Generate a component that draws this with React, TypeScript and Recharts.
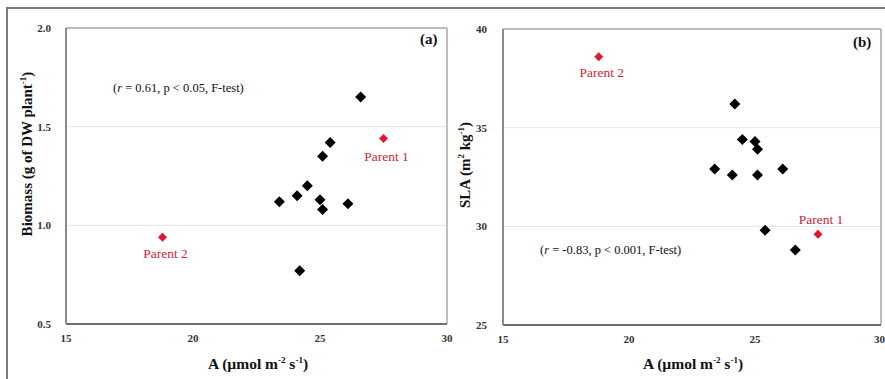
import React from "react";
import { ScatterChart, Scatter, XAxis, YAxis, CartesianGrid, ReferenceLine } from "recharts";

// photosynthesis rate A (µmol m-2 s-1) of the progeny lines
const lineA = [26.6, 25.4, 25.1, 24.5, 24.1, 23.4, 25.0, 25.1, 26.1, 24.2];
const lineBiomass = [1.65, 1.42, 1.35, 1.2, 1.15, 1.12, 1.13, 1.08, 1.11, 0.77];
const lineSlaA = [24.2, 24.5, 25.0, 25.1, 23.4, 24.1, 25.1, 26.1, 25.4, 26.6];
const lineSla = [36.2, 34.4, 34.3, 33.9, 32.9, 32.6, 32.6, 32.9, 29.8, 28.8];

const parentNames = ["Parent 1", "Parent 2"];
const parentA = [27.5, 18.8];
const parentBiomass = [1.44, 0.94];
const parentSla = [29.6, 38.6];

const xTicks = [15, 20, 25, 30];
const biomassTicks = [0.5, 1.0, 1.5, 2.0];
const slaTicks = [25, 30, 35, 40];

const linesA = lineA.map((a, i) => ({ a, v: lineBiomass[i] }));
const parentsA = parentA.map((a, i) => ({ a, v: parentBiomass[i], name: parentNames[i] }));
const linesB = lineSlaA.map((a, i) => ({ a, v: lineSla[i] }));
const parentsB = parentA.map((a, i) => ({ a, v: parentSla[i], name: parentNames[i] }));

const FONT = "Liberation Serif, DejaVu Serif, serif";
const RED = "#e3172c";
const TICK = { fill: "#333", fontSize: 11, fontWeight: 700, fontFamily: "Liberation Serif" };

function diamond(half: number, fill: string, labelDy?: Record<string, number>) {
  return (props: any) => {
    const { cx, cy, payload } = props;
    const pts = `${cx},${cy - half} ${cx + half},${cy} ${cx},${cy + half} ${cx - half},${cy}`;
    const dy = labelDy && payload?.name ? labelDy[payload.name] : undefined;
    return (
      <g>
        <polygon points={pts} fill={fill} />
        {dy !== undefined && (
          <text
            x={cx + 3}
            y={cy + dy}
            textAnchor="middle"
            dominantBaseline="central"
            fill="#cf2538"
            fontSize={13.5}
            fontFamily="Liberation Serif"
            style={{ fontFamily: FONT }}
          >
            {payload.name}
          </text>
        )}
      </g>
    );
  };
}

function Panel(props: {
  lines: any[];
  parents: any[];
  yDomain: [number, number];
  yTicks: number[];
  fmt: (v: number) => string;
  margin: any;
  width: number;
  tickGap: number;
  labelDy: Record<string, number>;
}) {
  const { lines, parents, yDomain, yTicks, fmt, margin, width, tickGap, labelDy } = props;
  return (
    <ScatterChart width={width} height={379} margin={margin} style={{ fontFamily: FONT }}>
      <CartesianGrid vertical={false} stroke="#e4e4e4" />
      <XAxis
        type="number"
        dataKey="a"
        domain={[15, 30]}
        ticks={xTicks}
        height={30}
        tickSize={0}
        tickMargin={10}
        tick={TICK}
        axisLine={{ stroke: "#6e6e6e", strokeWidth: 2 }}
      />
      <YAxis
        type="number"
        dataKey="v"
        domain={yDomain}
        ticks={yTicks}
        width={40}
        tickSize={0}
        tickMargin={tickGap}
        tickFormatter={fmt}
        tick={TICK}
        axisLine={{ stroke: "#8a8a8a", strokeWidth: 2 }}
      />
      <ReferenceLine y={yDomain[1]} stroke="#a8a8a8" strokeWidth={1.5} />
      <ReferenceLine x={30} stroke="#a8a8a8" strokeWidth={1.5} />
      <Scatter data={lines} shape={diamond(5.5, "#000")} isAnimationActive={false} />
      <Scatter data={parents} shape={diamond(4.5, RED, labelDy)} isAnimationActive={false} />
    </ScatterChart>
  );
}

const abs = (s: React.CSSProperties): React.CSSProperties => ({ position: "absolute", color: "#111", whiteSpace: "nowrap", ...s });
const sup: React.CSSProperties = { fontSize: 9, verticalAlign: "super", lineHeight: 0 };

export default function App() {
  return (
    <div style={{ position: "fixed", left: 0, top: 0, width: 885, height: 379, background: "#fff", overflow: "hidden", fontFamily: FONT }}>
      <div style={{ position: "absolute", left: 6, top: 7, width: 890, height: 380, borderTop: "2px solid #7a7a7a", borderLeft: "2px solid #7a7a7a" }} />
      <div style={{ position: "absolute", left: 0, top: 0 }}>
        <Panel
          lines={linesA}
          parents={parentsA}
          yDomain={[0.5, 2.0]}
          yTicks={biomassTicks}
          fmt={(v) => v.toFixed(1)}
          width={455}
          margin={{ top: 28, right: 8, bottom: 25, left: 26 }}
          tickGap={15}
          labelDy={{ "Parent 1": 18, "Parent 2": 16 }}
        />
      </div>
      <div style={{ position: "absolute", left: 440, top: 0 }}>
        <Panel
          lines={linesB}
          parents={parentsB}
          yDomain={[25, 40]}
          yTicks={slaTicks}
          fmt={(v) => String(v)}
          width={445}
          margin={{ top: 29, right: 4, bottom: 24, left: 23 }}
          tickGap={16}
          labelDy={{ "Parent 1": -15, "Parent 2": 16 }}
        />
      </div>

      <div style={abs({ left: 113, top: 81, fontSize: 12.5 })}>
        (<i>r</i> = 0.61, p &lt; 0.05, F-test)
      </div>
      <div style={abs({ left: 540, top: 243, fontSize: 12.5 })}>
        (<i>r</i> = -0.83, p &lt; 0.001, F-test)
      </div>
      <div style={abs({ left: 420, top: 31, fontSize: 15, fontWeight: 700 })}>(a)</div>
      <div style={abs({ left: 853, top: 34, fontSize: 15, fontWeight: 700 })}>(b)</div>

      <div style={abs({ left: 258, top: 364, transform: "translate(-50%, -50%)", fontSize: 15.5, fontWeight: 700 })}>
        A (µmol m<span style={sup}>-2</span> s<span style={sup}>-1</span>)
      </div>
      <div style={abs({ left: 693, top: 364, transform: "translate(-50%, -50%)", fontSize: 15.5, fontWeight: 700 })}>
        A (µmol m<span style={sup}>-2</span> s<span style={sup}>-1</span>)
      </div>
      <div style={abs({ left: 27, top: 154, transform: "translate(-50%, -50%) rotate(-90deg)", fontSize: 15, fontWeight: 700 })}>
        Biomass (g of DW plant<span style={sup}>-1</span>)
      </div>
      <div style={abs({ left: 465, top: 165, transform: "translate(-50%, -50%) rotate(-90deg)", fontSize: 15, fontWeight: 700 })}>
        SLA (m<span style={sup}>2</span> kg<span style={sup}>-1</span>)
      </div>
    </div>
  );
}
